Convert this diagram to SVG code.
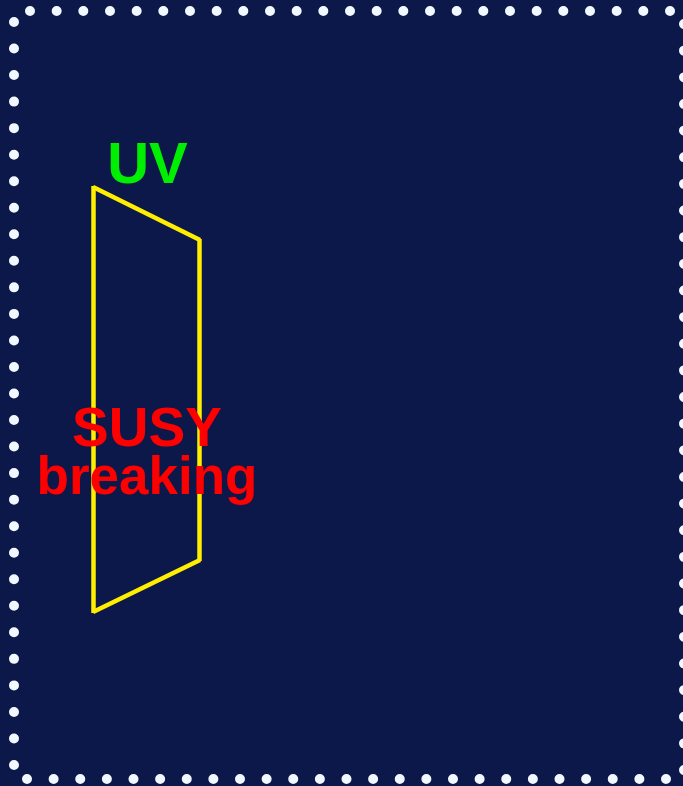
<svg xmlns="http://www.w3.org/2000/svg" width="683" height="786" viewBox="0 0 683 786">
<style>
.dots{fill:none;stroke:#f2f8ff;stroke-width:10;stroke-linecap:round}
.edge{fill:none;stroke:#ffee00;stroke-width:4.5;stroke-linecap:butt}
.lbl{font-family:"Liberation Sans",Arial,sans-serif;font-weight:bold;text-anchor:middle}
</style>
<rect x="0" y="0" width="683" height="786" fill="#0c184a"/>
<g id="border">
<path class="dots" d="M30 11H670.5" stroke-dasharray="0 26.667"/>
<path class="dots" d="M14 22V765.5" stroke-dasharray="0 26.536"/>
<path class="dots" d="M27 779H666.5" stroke-dasharray="0 26.625"/>
<path class="dots" d="M684 24V770.5" stroke-dasharray="0 26.643"/>
</g>
<g id="brane">
<line class="edge" x1="93.5" y1="186" x2="93.5" y2="613"/>
<line class="edge" x1="199.5" y1="239" x2="199.5" y2="561"/>
<line class="edge" x1="93" y1="187" x2="200" y2="240"/>
<line class="edge" x1="93" y1="612" x2="200" y2="560"/>
</g>
<g id="labels">
<text class="lbl" x="147.5" y="183" font-size="58" fill="#00ee00">UV</text>
<text class="lbl" x="147" y="446" font-size="55" fill="#ff0000">SUSY</text>
<text class="lbl" x="147" y="494" font-size="53" fill="#ff0000">breaking</text>
</g>
</svg>
